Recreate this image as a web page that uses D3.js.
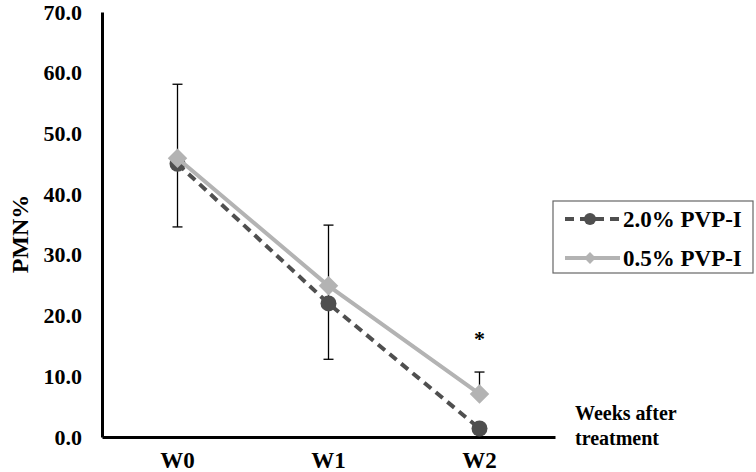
<!DOCTYPE html>
<html>
<head>
<meta charset="utf-8">
<script src="https://cdn.jsdelivr.net/npm/d3@7"></script>
<style>
    body { margin: 0; background: #fff; }
</style>
</head>
<body>
<div id="chart"></div>
<script>
// chart data
var weeks = ["W0", "W1", "W2"];
var pvp20 = [45.0, 22.0, 1.4];   // 2.0% PVP-I
var pvp05 = [45.9, 24.9, 7.1];   // 0.5% PVP-I
var errLow = [34.6, 12.8, 7.1];
var errHigh = [58.1, 34.9, 10.7];
var marks = ["", "", "*"];
var yTicks = [0, 10, 20, 30, 40, 50, 60, 70];
var seriesNames = ["2.0% PVP-I", "0.5% PVP-I"];

d3.pmn = {};

d3.pmn.lineModule = function module() {
    var width = 756,
        height = 472,
        plot = {left: 102, right: 555, top: 12, bottom: 437},
        font = "'Liberation Serif', 'Times New Roman', 'DejaVu Serif', serif",
        dark = "#4f4f4f",
        light = "#b3b3b3",
        svg;

    function exports(_selection) {
        _selection.each(function() {
            svg = d3.select(this).append("svg")
                    .attr("width", width)
                    .attr("height", height)
                    .style("font-family", font)
                    .style("font-weight", "bold");

            var x = d3.scaleBand().domain(weeks).range([plot.left, plot.right]),
                y = d3.scaleLinear().domain([0, 70]).range([plot.bottom, plot.top]),
                cx = function(d) { return x(d) + x.bandwidth() / 2; };

            // axes
            var yAxis = svg.append("g")
                    .attr("transform", "translate(" + plot.left + ",0)")
                    .call(d3.axisLeft(y).tickValues(yTicks).tickFormat(d3.format(".1f"))
                          .tickSize(0).tickSizeOuter(0).tickPadding(20));
            var xAxis = svg.append("g")
                    .attr("transform", "translate(0," + plot.bottom + ")")
                    .call(d3.axisBottom(x).tickSize(0).tickSizeOuter(0).tickPadding(15));
            [yAxis, xAxis].forEach(function(a) {
                a.attr("font-family", null).attr("font-size", null);
                a.select(".domain").attr("stroke", "#000").attr("stroke-width", 3);
                a.selectAll("text").style("font-size", "22px").style("font-family", font).attr("fill", "#000");
            });
            xAxis.selectAll("text").style("font-size", "23px");

            // axis titles
            svg.append("text")
                .attr("transform", "translate(28,234) rotate(-90)")
                .attr("text-anchor", "middle")
                .style("font-size", "24px")
                .text("PMN%");
            var xt = svg.append("text")
                .attr("x", 575).attr("y", 420)
                .style("font-size", "20px");
            xt.append("tspan").attr("x", 575).text("Weeks after");
            xt.append("tspan").attr("x", 575).attr("dy", 25).text("treatment");

            // error bars
            var eb = svg.append("g").attr("stroke", "#000").attr("stroke-width", 1.3);
            weeks.forEach(function(w, i) {
                var xc = cx(w);
                eb.append("line").attr("x1", xc).attr("x2", xc)
                    .attr("y1", y(errLow[i])).attr("y2", y(errHigh[i]));
                [errLow[i], errHigh[i]].forEach(function(v) {
                    eb.append("line").attr("x1", xc - 5).attr("x2", xc + 5)
                        .attr("y1", y(v)).attr("y2", y(v));
                });
            });

            var line = d3.line()
                .x(function(d, i) { return cx(weeks[i]); })
                .y(function(d) { return y(d); });

            // 2.0% series: dashed dark line with circles
            svg.append("path").datum(pvp20)
                .attr("d", line)
                .attr("fill", "none")
                .attr("stroke", dark)
                .attr("stroke-width", 4)
                .attr("stroke-dasharray", "9,6");
            svg.selectAll(".dot20").data(pvp20).enter().append("circle")
                .attr("class", "dot20")
                .attr("cx", function(d, i) { return cx(weeks[i]); })
                .attr("cy", function(d) { return y(d); })
                .attr("r", 8)
                .attr("fill", dark);

            // 0.5% series: solid light line with diamonds
            svg.append("path").datum(pvp05)
                .attr("d", line)
                .attr("fill", "none")
                .attr("stroke", light)
                .attr("stroke-width", 4);
            var diamond = d3.symbol().type(d3.symbolSquare).size(190);
            svg.selectAll(".dia05").data(pvp05).enter().append("path")
                .attr("class", "dia05")
                .attr("d", diamond)
                .attr("transform", function(d, i) {
                    return "translate(" + cx(weeks[i]) + "," + y(d) + ") rotate(45)";
                })
                .attr("fill", light);

            // significance marks
            svg.selectAll(".sig").data(marks).enter().append("text")
                .attr("class", "sig")
                .attr("x", function(d, i) { return cx(weeks[i]); })
                .attr("y", function(d, i) { return y(errHigh[i]) - 26; })
                .attr("text-anchor", "middle")
                .style("font-size", "22px")
                .text(function(d) { return d; });

            // legend
            var lg = svg.append("g").attr("transform", "translate(553,201)");
            lg.append("rect")
                .attr("width", 200).attr("height", 72)
                .attr("fill", "#fff")
                .attr("stroke", "#666").attr("stroke-width", 1.2);
            seriesNames.forEach(function(name, i) {
                var row = lg.append("g").attr("transform", "translate(0," + (18 + i * 39) + ")");
                var ln = row.append("line")
                    .attr("x1", 12).attr("x2", 67)
                    .attr("stroke", i === 0 ? dark : light)
                    .attr("stroke-width", 4);
                if (i === 0) {
                    ln.attr("stroke-dasharray", "9,6");
                    row.append("circle").attr("cx", 37).attr("r", 6).attr("fill", dark);
                } else {
                    row.append("path").attr("d", d3.symbol().type(d3.symbolSquare).size(70))
                        .attr("transform", "translate(37,0) rotate(45)").attr("fill", light);
                }
                row.append("text")
                    .attr("x", 70).attr("dy", "0.35em")
                    .style("font-size", "23px")
                    .text(name);
            });
        });
    }

    exports.width = function(_x) {
        if (!arguments.length) return width;
        width = parseInt(_x);
        return this;
    };
    exports.height = function(_x) {
        if (!arguments.length) return height;
        height = parseInt(_x);
        return this;
    };

    return exports;
};

d3.select("#chart").call(d3.pmn.lineModule());
</script>
</body>
</html>
